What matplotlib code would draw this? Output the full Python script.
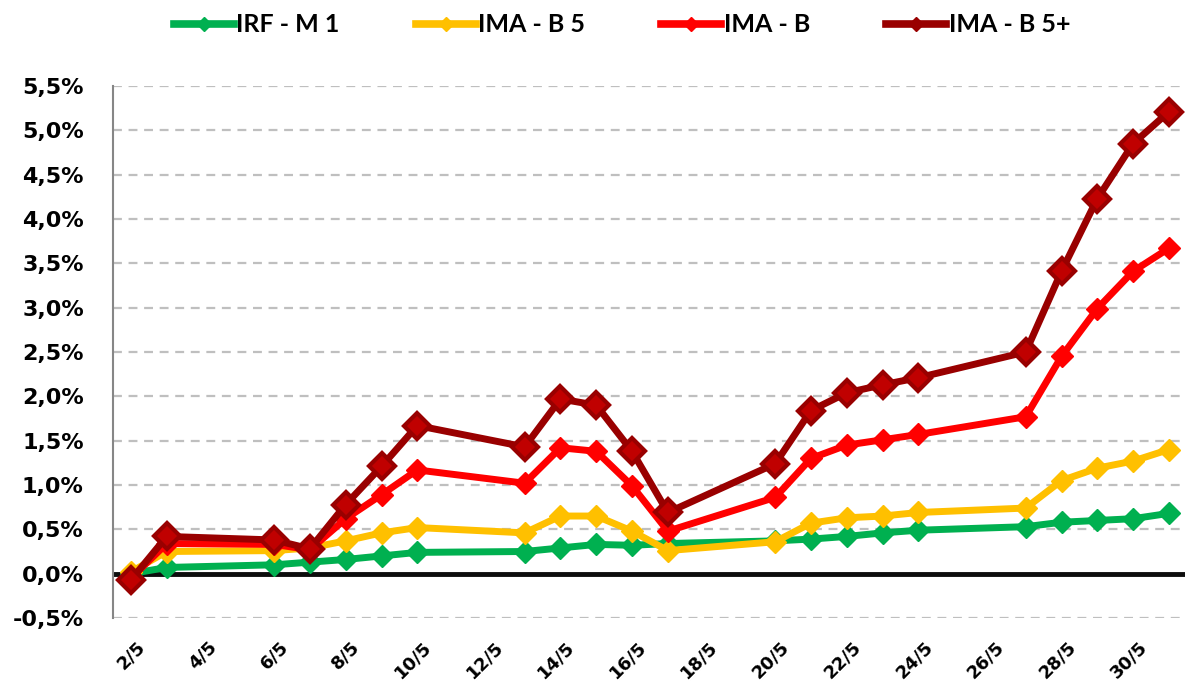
import matplotlib
matplotlib.use("Agg")
from matplotlib import pyplot as plt
from matplotlib.lines import Line2D
from matplotlib.transforms import ScaledTranslation

# trading days in May
DAYS = [2, 3, 6, 7, 8, 9, 10, 13, 14, 15, 16, 17, 20, 21, 22, 23, 24, 27, 28, 29, 30, 31]

IRF_M1 = [0.00, 0.07, 0.10, 0.13, 0.16, 0.20, 0.24, 0.25, 0.29, 0.33, 0.32, 0.34,
          0.37, 0.39, 0.42, 0.46, 0.49, 0.53, 0.58, 0.60, 0.62, 0.68]
IMA_B5 = [0.02, 0.25, 0.26, 0.29, 0.37, 0.46, 0.52, 0.46, 0.65, 0.65, 0.48, 0.26,
          0.36, 0.57, 0.63, 0.65, 0.69, 0.74, 1.05, 1.19, 1.27, 1.40]
IMA_B = [-0.05, 0.34, 0.33, 0.27, 0.62, 0.89, 1.17, 1.02, 1.42, 1.38, 0.99, 0.48,
         0.86, 1.30, 1.45, 1.51, 1.57, 1.77, 2.45, 2.99, 3.41, 3.67]
IMA_B5P = [-0.07, 0.42, 0.38, 0.28, 0.78, 1.21, 1.67, 1.43, 1.97, 1.90, 1.38, 0.69,
           1.24, 1.84, 2.04, 2.13, 2.21, 2.50, 3.41, 4.23, 4.85, 5.21]

SERIES_NAMES = ["IRF - M 1", "IMA - B 5", "IMA - B", "IMA - B 5+"]
COLORS = ["#00B050", "#FFC000", "#FF0000", "#990000"]

TICK_DAYS = list(range(2, 31, 2))
Y_TICKS = [-0.5 + 0.5 * i for i in range(13)]


fig = plt.figure(figsize=(11.85, 6.82), dpi=100)
ax = fig.add_axes([113 / 1185, 64 / 682, 1072 / 1185, 532 / 682])

ax.set_xlim(1.497, 31.45)
ax.set_ylim(-0.5, 5.5)

# gridlines + zero line
for y in Y_TICKS:
  if y == 0:
    continue
  ax.axhline(y, color="#BFBFBF", lw=1.6, ls=(0, (4, 3)), zorder=1)
ax.axhline(0, color="#0D0D0D", lw=3.5, zorder=2)

all_series = [IRF_M1, IMA_B5, IMA_B, IMA_B5P]
for i, (vals, col) in enumerate(zip(all_series, COLORS)):
  if i == 3:
    ax.plot(DAYS, vals, color=col, lw=5, marker="D", markersize=13,
            markerfacecolor="#C00000", markeredgecolor=col, markeredgewidth=3,
            zorder=3 + i, solid_joinstyle="round")
  else:
    ax.plot(DAYS, vals, color=col, lw=5, marker="D", markersize=11,
            markerfacecolor=col, markeredgecolor=col, zorder=3 + i,
            solid_joinstyle="round")

for s in ["top", "right", "bottom"]:
  ax.spines[s].set_visible(False)
ax.spines["left"].set_color("#868686")
ax.spines["left"].set_linewidth(1.5)

ax.set_yticks(Y_TICKS)
ax.set_yticklabels([f"{v:.1f}%".replace(".", ",") for v in Y_TICKS],
                   fontsize=16, fontweight="bold")
ax.tick_params(axis="y", length=0, pad=21)

ax.set_xticks(TICK_DAYS)
ax.set_xticklabels([f"{d}/5" for d in TICK_DAYS], rotation=45, ha="right",
                   rotation_mode="anchor", fontsize=13, fontweight="bold")
ax.tick_params(axis="x", length=0, pad=14)
shift = ScaledTranslation(5 / 100, 0, fig.dpi_scale_trans)
for lbl in ax.get_xticklabels():
  lbl.set_transform(lbl.get_transform() + shift)

handles = [Line2D([], [], color=c, lw=5.5, marker="D", markersize=7,
                  markerfacecolor=c, markeredgecolor=c) for c in COLORS]
fig.legend(handles, SERIES_NAMES, loc="center", ncol=4,
           bbox_to_anchor=(622 / 1185, 1 - 25 / 682), frameon=False,
           prop={"family": ["Lato", "DejaVu Sans"], "weight": "bold", "size": 18},
           handlelength=2.4, handletextpad=0.1, columnspacing=3.05)

plt.savefig("out.png", dpi=100)
